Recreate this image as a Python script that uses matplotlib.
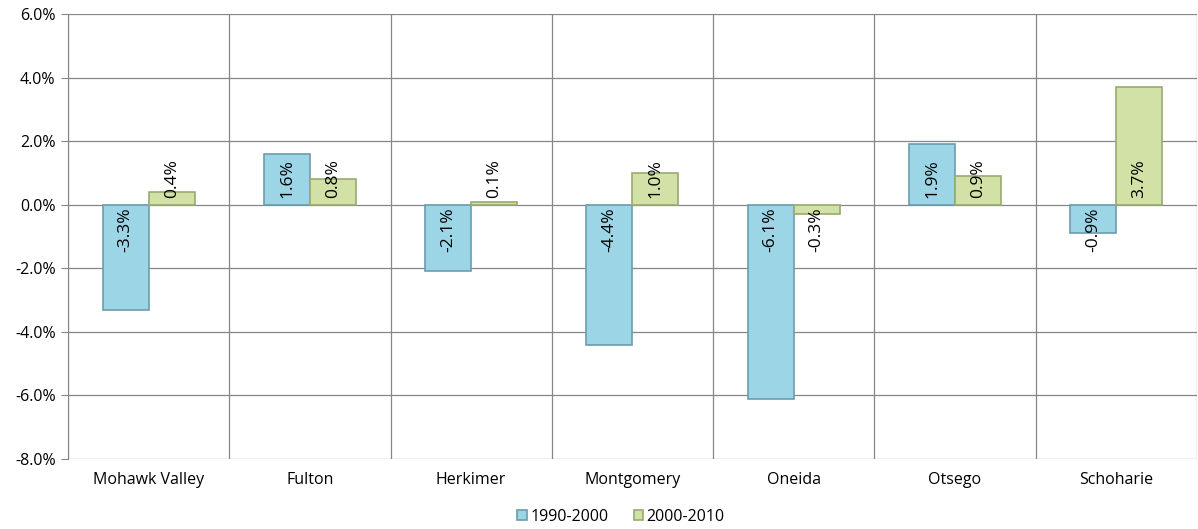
import numpy as np
import matplotlib
matplotlib.use("Agg")
import matplotlib.pyplot as plt
from matplotlib.ticker import FuncFormatter, MultipleLocator

counties = ["Mohawk Valley", "Fulton", "Herkimer", "Montgomery", "Oneida", "Otsego", "Schoharie"]
chg_1990_2000 = [-3.3, 1.6, -2.1, -4.4, -6.1, 1.9, -0.9]
chg_2000_2010 = [0.4, 0.8, 0.1, 1.0, -0.3, 0.9, 3.7]
series_names = ["1990-2000", "2000-2010"]

plt.rcParams['font.family'] = ['Open Sans', 'DejaVu Sans']

fig = plt.figure(figsize=(11.98, 5.29), dpi=100)
ax = fig.add_axes([0.0568, 0.1323, 0.9422, 0.8412])

x = np.arange(len(counties))
w = 0.285
b1 = ax.bar(x - w/2, chg_1990_2000, w, color='#9BD5E6', edgecolor='#6C9DAC', linewidth=1.2,
            label=series_names[0], zorder=3)
b2 = ax.bar(x + w/2, chg_2000_2010, w, color='#D2E1A5', edgecolor='#99AA72', linewidth=1.2,
            label=series_names[1], zorder=3)

# labels at the inside base of each bar
for bars, vals in [(b1, chg_1990_2000), (b2, chg_2000_2010)]:
    for r, v in zip(bars, vals):
        cx = r.get_x() + r.get_width()/2
        if v >= 0:
            ax.annotate(f"{v:.1f}%", (cx, 0), xytext=(0, 5), textcoords='offset points',
                        rotation=90, ha='center', va='bottom', fontsize=12.5, zorder=4)
        else:
            ax.annotate(f"{v:.1f}%", (cx, 0), xytext=(0, -2), textcoords='offset points',
                        rotation=90, ha='center', va='top', fontsize=12.5, zorder=4)

ax.set_xlim(-0.5, len(counties) - 0.5)
ax.set_ylim(-8, 6)
ax.yaxis.set_major_locator(MultipleLocator(2))
ax.yaxis.set_major_formatter(FuncFormatter(lambda v, p: f"{v:.1f}%"))
ax.set_xticks(x)
ax.set_xticklabels(counties, fontsize=11.5)
ax.tick_params(axis='x', length=0, pad=9)
ax.tick_params(axis='y', length=5, color='#868686', labelsize=11.5, pad=4)

ax.set_xticks(np.arange(-0.5, len(counties)), minor=True)
ax.tick_params(axis='x', which='minor', length=0)
ax.grid(axis='y', which='major', color='#868686', linewidth=0.9, zorder=0)
ax.grid(axis='x', which='minor', color='#868686', linewidth=0.9, zorder=0)
ax.set_axisbelow(True)

for s in ['top', 'right', 'bottom']:
    ax.spines[s].set_visible(False)
ax.spines['left'].set_color('#868686')

ax.legend(loc='lower center', bbox_to_anchor=(0.49, -0.18), ncol=2, frameon=False,
          fontsize=11.5, handlelength=0.6, handleheight=0.6, handletextpad=0.2, columnspacing=1.6)

fig.savefig("out.png", dpi=100)
